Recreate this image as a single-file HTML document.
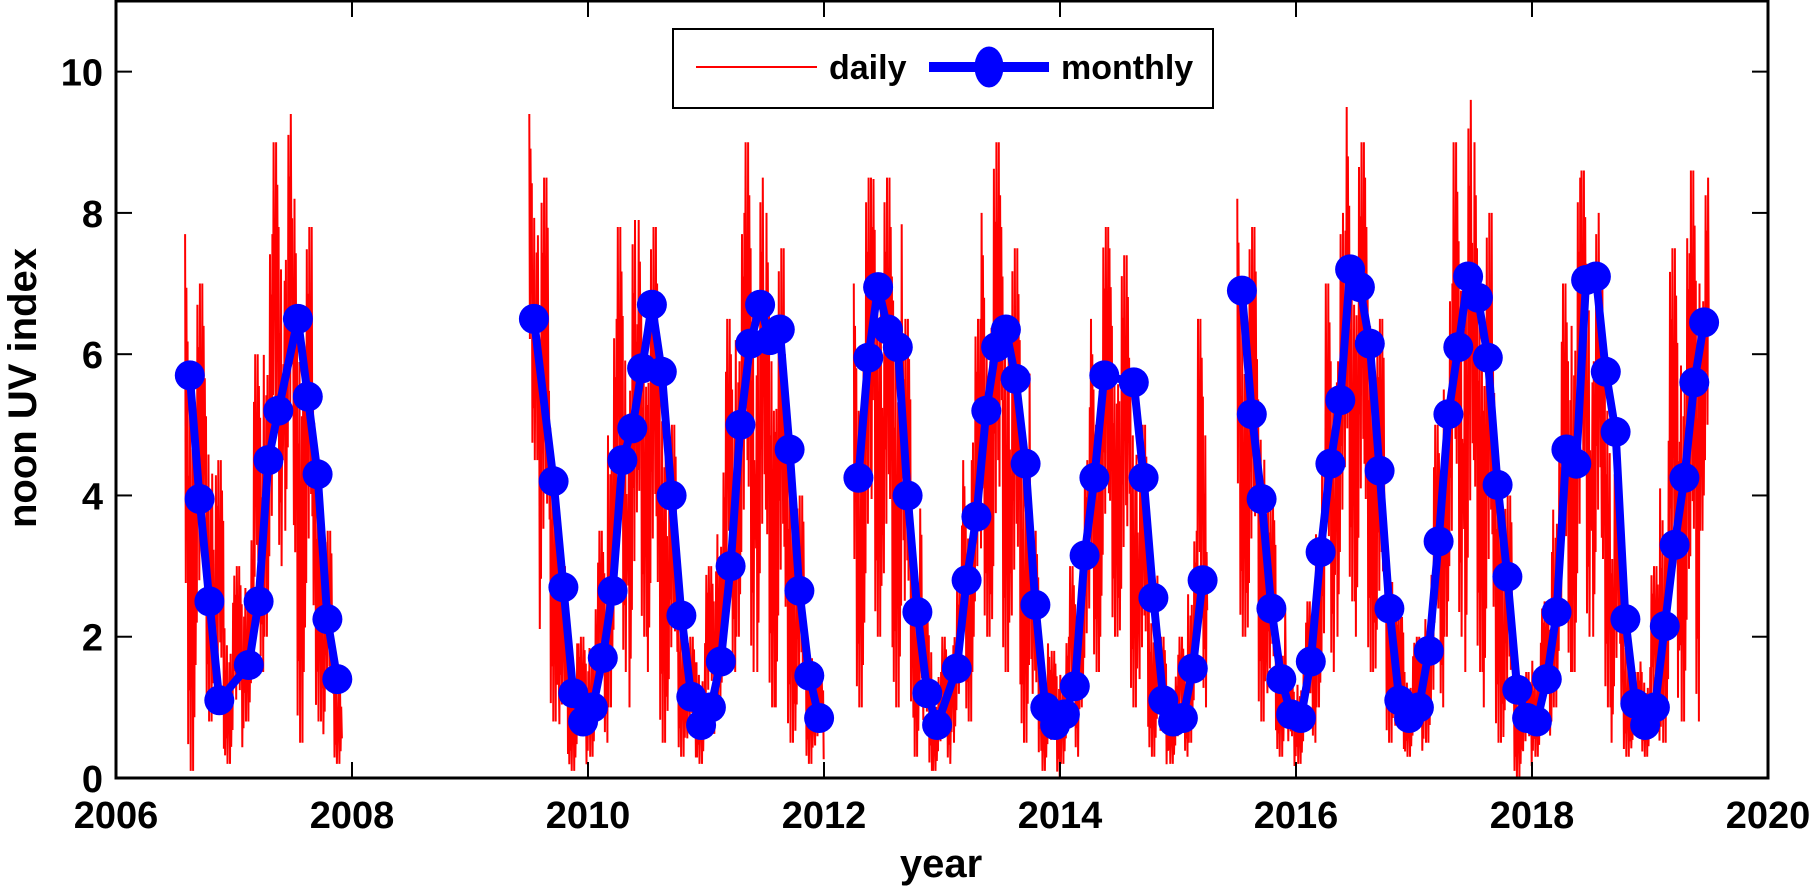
<!DOCTYPE html>
<html><head><meta charset="utf-8"><style>
html,body{margin:0;padding:0;background:#fff;}
svg{display:block;font-family:"Liberation Sans",Arial,sans-serif;font-weight:bold;}
</style></head><body>
<svg id="chart" width="1814" height="888" viewBox="0 0 1814 888" xmlns="http://www.w3.org/2000/svg">
<g id="daily-layer"></g>
<g id="monthly-layer"></g>
<g id="axes-layer"></g>
<g>
  <rect x="673" y="29" width="540" height="79" fill="#fff" stroke="#000" stroke-width="2"/>
  <line x1="696" y1="67" x2="817" y2="67" stroke="#f00" stroke-width="2"/>
  <text x="829" y="79" font-size="34">daily</text>
  <line x1="929" y1="67" x2="1049" y2="67" stroke="#00f" stroke-width="10"/>
  <ellipse cx="989" cy="67" rx="14.5" ry="20.5" fill="#00f"/>
  <text x="1061" y="79" font-size="34">monthly</text>
</g>
<text x="941" y="877" font-size="40" text-anchor="middle">year</text>
<text transform="translate(36,388) rotate(-90)" font-size="40" text-anchor="middle">noon UV index</text>
</svg>
<script>
const xTicks = [2006, 2008, 2010, 2012, 2014, 2016, 2018, 2020];
const yTicks = [0, 2, 4, 6, 8, 10];
const monthlyMonths = ["2006-08","2006-09","2006-10","2006-11","2007-02","2007-03","2007-04","2007-05","2007-07","2007-08","2007-09","2007-10","2007-11",
"2009-07","2009-09","2009-10","2009-11","2009-12",
"2010-01","2010-02","2010-03","2010-04","2010-05","2010-06","2010-07","2010-08","2010-09","2010-10","2010-11","2010-12",
"2011-01","2011-02","2011-03","2011-04","2011-05","2011-06","2011-07","2011-08","2011-09","2011-10","2011-11","2011-12",
"2012-04","2012-05","2012-06","2012-07","2012-08","2012-09","2012-10","2012-11","2012-12",
"2013-02","2013-03","2013-04","2013-05","2013-06","2013-07","2013-08","2013-09","2013-10","2013-11","2013-12",
"2014-01","2014-02","2014-03","2014-04","2014-05","2014-08","2014-09","2014-10","2014-11","2014-12",
"2015-01","2015-02","2015-03",
"2015-07","2015-08","2015-09","2015-10","2015-11","2015-12",
"2016-01","2016-02","2016-03","2016-04","2016-05","2016-06","2016-07","2016-08","2016-09","2016-10","2016-11","2016-12",
"2017-01","2017-02","2017-03","2017-04","2017-05","2017-06","2017-07","2017-08","2017-09","2017-10","2017-11","2017-12",
"2018-01","2018-02","2018-03","2018-04","2018-05","2018-06","2018-07","2018-08","2018-09","2018-10","2018-11","2018-12",
"2019-01","2019-02","2019-03","2019-04","2019-05","2019-06"];
const monthlyValues = [5.7,3.95,2.5,1.1,1.6,2.5,4.5,5.2,6.5,5.4,4.3,2.25,1.4,
6.5,4.2,2.7,1.2,0.8,
1.0,1.7,2.65,4.5,4.95,5.8,6.7,5.75,4.0,2.3,1.15,0.75,
1.0,1.65,3.0,5.0,6.15,6.7,6.2,6.35,4.65,2.65,1.45,0.85,
4.25,5.95,6.95,6.35,6.1,4.0,2.35,1.2,0.75,
1.55,2.8,3.7,5.2,6.1,6.35,5.65,4.45,2.45,1.0,0.75,
0.9,1.3,3.15,4.25,5.7,5.6,4.25,2.55,1.1,0.8,
0.85,1.55,2.8,
6.9,5.15,3.95,2.4,1.4,0.9,
0.85,1.65,3.2,4.45,5.35,7.2,6.95,6.15,4.35,2.4,1.1,0.85,
1.0,1.8,3.35,5.15,6.1,7.1,6.8,5.95,4.15,2.85,1.25,0.85,
0.8,1.4,2.35,4.65,4.45,7.05,7.1,5.75,4.9,2.25,1.05,0.75,
1.0,2.15,3.3,4.25,5.6,6.45];
// daily data summarised as monthly max/min envelopes per continuous segment
const dailyStarts = ["2006-08","2009-07","2012-04","2015-07"];
const dailyMax1 = [7.7,7.0,6.2,4.5,2.6,3.0,3.5,6.0,7.7,9.0,9.4,8.2,7.8,5.5,3.5,2.0];
const dailyMin1 = [0.1,1.0,0.8,0.2,0.2,0.3,0.8,1.5,2.0,3.0,3.5,0.5,1.5,0.8,0.3,0.2];
const dailyMax2 = [9.4,8.5,6.0,3.0,2.0,2.0,2.5,3.5,6.5,7.8,7.9,7.9,7.8,7.0,5.0,3.0,2.0,2.0,3.0,4.5,6.5,8.0,9.0,8.5,8.0,7.5,6.0,4.0,2.5,1.5];
const dailyMin2 = [4.5,1.4,0.8,0.2,0.1,0.1,0.3,0.5,1.0,1.5,1.0,2.0,1.5,0.5,0.5,0.3,0.2,0.2,0.5,1.0,1.5,2.0,1.5,1.5,1.0,1.0,0.5,0.3,0.2,0.2];
const dailyMax3 = [7.0,8.5,9.2,8.5,8.2,6.5,4.0,2.5,1.5,2.0,2.8,4.5,6.5,8.0,9.0,8.5,7.5,6.0,3.5,2.0,1.8,2.0,3.0,4.5,6.5,7.8,7.5,7.4,6.5,5.0,3.0,2.0,1.5,2.0,3.5,6.5];
const dailyMin3 = [1.0,1.5,2.0,1.5,1.0,0.8,0.3,0.1,0.1,0.2,0.5,0.8,1.5,2.0,1.5,1.5,1.0,0.5,0.2,0.1,0.0,0.2,0.3,1.0,1.5,2.0,2.0,1.5,1.0,0.5,0.3,0.1,0.2,0.3,0.5,1.0];
const dailyMax4 = [8.2,7.8,6.5,4.0,2.5,1.5,1.8,2.5,4.5,7.0,8.0,9.5,9.0,8.5,6.5,4.0,2.5,1.8,2.0,3.0,5.0,7.0,9.0,9.6,9.0,8.0,6.0,4.0,2.0,1.5,2.0,2.5,5.0,7.0,8.5,8.6,8.0,7.0,4.5,2.5,1.5,1.8,3.0,5.0,7.5,8.0,8.6,8.5];
const dailyMin4 = [2.0,1.5,0.8,0.5,0.3,0.1,0.2,0.5,1.0,1.5,2.0,2.5,2.0,1.5,1.0,0.5,0.3,0.3,0.3,0.5,1.0,2.0,2.0,1.5,1.5,1.0,0.5,0.2,0.0,0.1,0.3,0.5,1.0,1.5,1.5,2.0,2.0,1.0,0.5,0.3,0.3,0.3,0.4,0.5,0.8,0.8,0.8,3.5];

const NS = "http://www.w3.org/2000/svg";
const L = 116, R = 1768, T = 1, B = 778;
const X0 = 2006, X1 = 2020, Y0 = 0, Y1 = 11;
const xs = v => L + (v - X0) / (X1 - X0) * (R - L);
const ys = v => B - (v - Y0) / (Y1 - Y0) * (B - T);
const mIdx = s => { const p = s.split("-"); return (+p[0]) * 12 + (+p[1]) - 1; };
const mYear = i => Math.floor(i / 12) + ((i % 12) + 0.5) / 12;
function mk(tag, attrs, parent) { const e = document.createElementNS(NS, tag); for (const k in attrs) e.setAttribute(k, attrs[k]); parent.appendChild(e); return e; }

// daily zigzag (shape pattern is a style constant)
const zig = [0, 0.35, 0.1, 0.55, 0.2, 0.05, 0.45, 0.15, 0.3, 0.0, 0.6, 0.25, 0.4];
const dl = document.getElementById("daily-layer");
const segs = [[dailyMax1, dailyMin1], [dailyMax2, dailyMin2], [dailyMax3, dailyMin3], [dailyMax4, dailyMin4]];
segs.forEach((sg, si) => {
  const start = mIdx(dailyStarts[si]);
  const pts = [];
  sg[0].forEach((mx, j) => {
    const mn = sg[1][j];
    const n = 16;
    for (let k = 0; k < n; k++) {
      const t = mYear(start + j) - 0.5 / 12 + (k + 0.5) / n / 12;
      const z = zig[(k + j) % zig.length];
      const v = k % 2 === 0 ? mx - z * (mx - mn) : mn + z * (mx - mn);
      pts.push(xs(t).toFixed(1) + "," + ys(v).toFixed(1));
    }
  });
  const pl = mk("polyline", { points: pts.join(" "), fill: "none", stroke: "#f00", "stroke-width": 2 }, dl);
  
  
});

// monthly
const ml = document.getElementById("monthly-layer");
let runs = [], cur = [];
monthlyMonths.forEach((m, i) => {
  const idx = mIdx(m);
  if (cur.length && idx - cur[cur.length - 1].idx > 3) { runs.push(cur); cur = []; }
  cur.push({ idx, v: monthlyValues[i] });
});
runs.push(cur);
runs.forEach(r => {
  const pl = mk("polyline", { points: r.map(p => xs(mYear(p.idx)).toFixed(1) + "," + ys(p.v).toFixed(1)).join(" "), fill: "none", stroke: "#00f", "stroke-width": 8, "stroke-linejoin": "round" }, ml);
  
  
});
runs.forEach(r => r.forEach(p => {
  const c = mk("circle", { cx: xs(mYear(p.idx)).toFixed(1), cy: ys(p.v).toFixed(1), r: 15, fill: "#00f" }, ml);
  
  
}));

// axes
const ax = document.getElementById("axes-layer");
const box = mk("rect", { x: L, y: T, width: R - L, height: B - T, fill: "none", stroke: "#000", "stroke-width": 3 }, ax);


xTicks.forEach(v => {
  const x = xs(v);
  const t1 = mk("line", { x1: x, y1: B, x2: x, y2: B - 16, stroke: "#000", "stroke-width": 2 }, ax);
  
  
  const t2 = mk("line", { x1: x, y1: T, x2: x, y2: T + 16, stroke: "#000", "stroke-width": 2 }, ax);
  
  
  const tx = mk("text", { x: x, y: 828, "font-size": 38, "text-anchor": "middle" }, ax);
  tx.textContent = v;
  
  
});
yTicks.forEach(v => {
  const y = ys(v);
  const t1 = mk("line", { x1: L, y1: y, x2: L + 16, y2: y, stroke: "#000", "stroke-width": 2 }, ax);
  
  
  const t2 = mk("line", { x1: R, y1: y, x2: R - 16, y2: y, stroke: "#000", "stroke-width": 2 }, ax);
  
  
  const tx = mk("text", { x: 103, y: y + 14, "font-size": 38, "text-anchor": "end" }, ax);
  tx.textContent = v;
  
  
});
</script>
</body></html>
